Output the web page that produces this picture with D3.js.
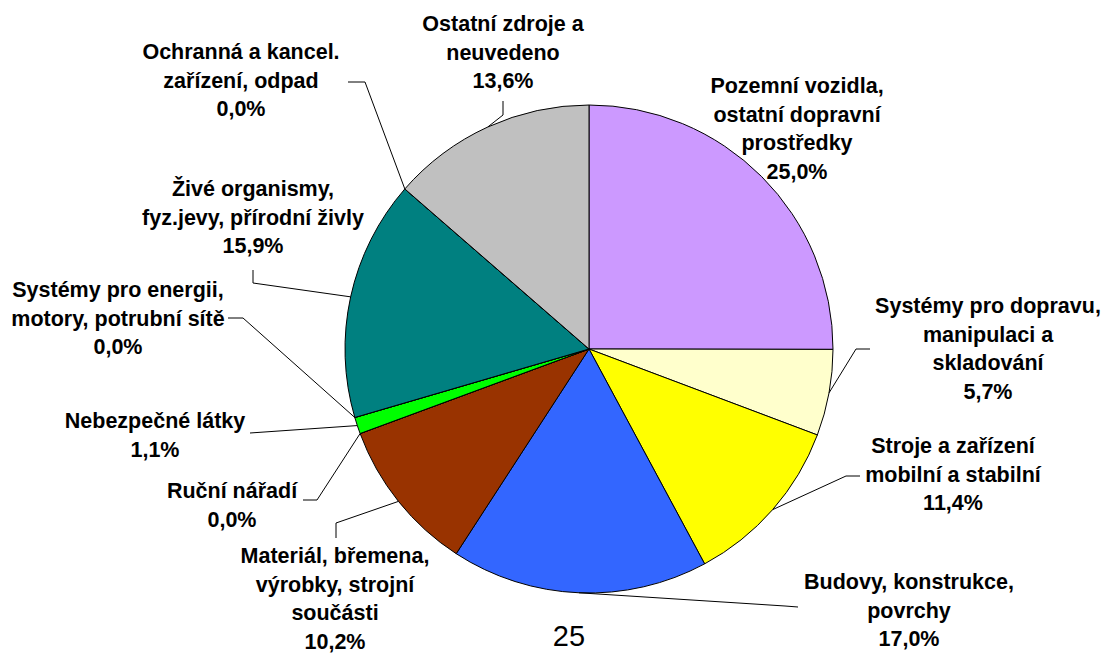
<!DOCTYPE html>
<html>
<head>
<meta charset="utf-8">
<script src="https://cdn.jsdelivr.net/npm/d3@7/dist/d3.min.js"></script>
<style>
  html, body { margin: 0; padding: 0; background: #fff; }
  svg { display: block; }
  text { font-family: "Liberation Sans", Arial, sans-serif; fill: #000; }
</style>
</head>
<body>
<svg id="chart" width="1105" height="653"></svg>
<script>
// Zdroje úrazů – podíl v procentech (po směru hodinových ručiček od 12 h)
const categories = [
  "Pozemní vozidla,\nostatní dopravní\nprostředky",
  "Systémy pro dopravu,\nmanipulaci a\nskladování",
  "Stroje a zařízení\nmobilní a stabilní",
  "Budovy, konstrukce,\npovrchy",
  "Materiál, břemena,\nvýrobky, strojní\nsoučásti",
  "Ruční nářadí",
  "Nebezpečné látky",
  "Systémy pro energii,\nmotory, potrubní sítě",
  "Živé organismy,\nfyz.jevy, přírodní živly",
  "Ochranná a kancel.\nzařízení, odpad",
  "Ostatní zdroje a\nneuvedeno"
];
const values = [25.0, 5.7, 11.4, 17.0, 10.2, 0.0, 1.1, 0.0, 15.9, 0.0, 13.6];
const colors = ["#CC99FF", "#FFFFCC", "#FFFF00", "#3366FF", "#993300", "#FF6600",
                "#00FF00", "#808080", "#008080", "#FF00FF", "#C0C0C0"];
const pageNumber = "25";

// Umístění popisků: střed textu, účaří prvního řádku a lomené body vodicí čáry
const labelLayout = [
  { x: 797, y: 93,  leader: null },
  { x: 988, y: 313, leader: [[856, 349], [870, 349]] },
  { x: 953, y: 453, leader: [[846, 476], [860, 476]] },
  { x: 909, y: 589, leader: [[785, 606], [798, 607]] },
  { x: 335, y: 563, leader: [[336, 523], [336, 538]] },
  { x: 232, y: 498, leader: [[317, 500], [303, 500]] },
  { x: 155, y: 428, leader: [[250, 433]] },
  { x: 118, y: 297, leader: [[243, 318], [228, 318]] },
  { x: 253, y: 196, leader: [[253, 283], [253, 270]] },
  { x: 241, y: 59,  leader: [[365, 82], [348, 82]] },
  { x: 503, y: 31,  leader: [[503, 115], [503, 101]] }
];

const cx = 589, cy = 349, radius = 244;
const lineHeight = 28.5;
const fmt = v => v.toFixed(1).replace(".", ",") + "%";

const svg = d3.select("#chart");
const g = svg.append("g").attr("transform", `translate(${cx},${cy})`);

const pie = d3.pie().sort(null).value(d => d)(values);
const arc = d3.arc().innerRadius(0).outerRadius(radius);

g.selectAll("path.slice")
  .data(pie)
  .join("path")
  .attr("class", "slice")
  .attr("d", arc)
  .attr("fill", (d, i) => colors[i])
  .attr("stroke", "#000")
  .attr("stroke-width", 1)
  .attr("stroke-linejoin", "round");

// Vodicí čáry od obvodu výseče k popisku
pie.forEach((d, i) => {
  const lay = labelLayout[i];
  if (!lay.leader) return;
  const a = (d.startAngle + d.endAngle) / 2;
  const start = [cx + radius * Math.sin(a), cy - radius * Math.cos(a)];
  const pts = [start, ...lay.leader];
  svg.append("path")
    .attr("d", d3.line()(pts))
    .attr("fill", "none")
    .attr("stroke", "#000")
    .attr("stroke-width", 1);
});

// Popisky: název kategorie a hodnota
pie.forEach((d, i) => {
  const lay = labelLayout[i];
  const lines = categories[i].split("\n").concat([fmt(values[i])]);
  const t = svg.append("text")
    .attr("text-anchor", "middle")
    .attr("font-size", 21.5)
    .attr("font-weight", "bold");
  lines.forEach((ln, k) => {
    t.append("tspan")
      .attr("x", lay.x)
      .attr("y", lay.y + k * lineHeight)
      .text(ln);
  });
});

svg.append("text")
  .attr("x", 569)
  .attr("y", 646)
  .attr("text-anchor", "middle")
  .attr("font-size", 29)
  .text(pageNumber);
</script>
</body>
</html>
